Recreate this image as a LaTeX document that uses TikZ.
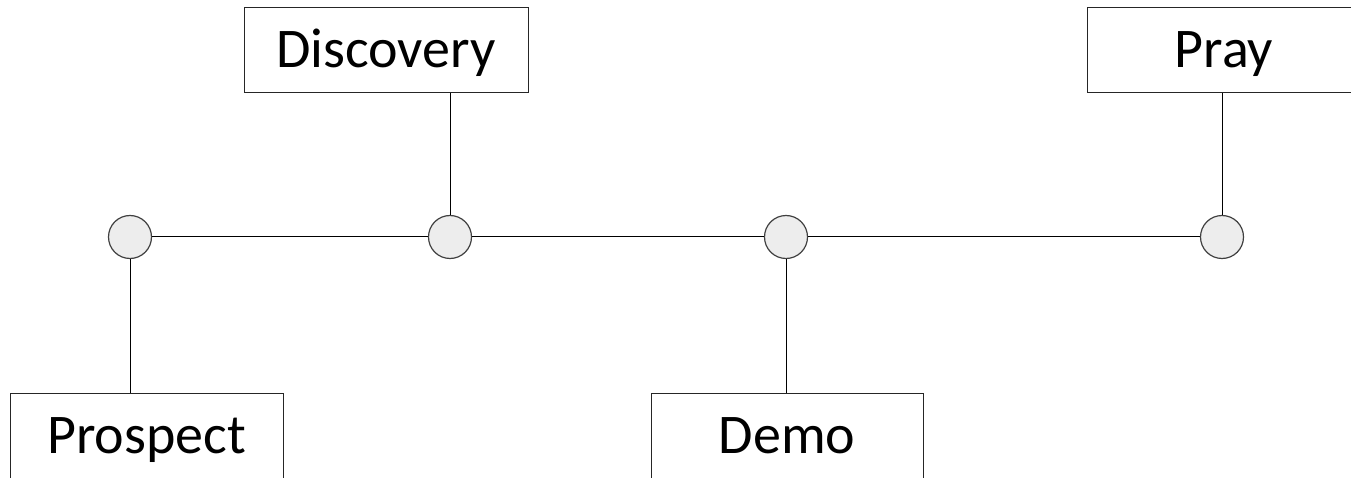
\documentclass[tikz,border=0pt]{standalone}
\usepackage{fontspec}
\setmainfont{Carlito}
\begin{document}
\begin{tikzpicture}[x=1pt,y=-1pt,
  stagebox/.style={draw=black!85, line width=0.9pt, rectangle, inner sep=0pt,
    minimum width=274pt, text height=60pt, text depth=25pt,
    font=\fontsize{56}{60}\selectfont},
  dot/.style={circle, draw=black!75, line width=1.2pt, fill=black!7,
    minimum size=43pt, inner sep=0pt},
  link/.style={draw=black, line width=1pt}]
\useasboundingbox (0,0) rectangle (1351,478);
\clip (0,0) rectangle (1351,478);
\node[stagebox, minimum width=284pt] (disc) at (386,7) [anchor=north] {Discovery};
\node[stagebox] (pray) at (1224,7) [anchor=north] {Pray};
\node[stagebox, minimum width=273pt] (prosp) at (146.5,393) [anchor=north] {Prospect};
\node[stagebox, minimum width=272pt] (demo) at (787,393) [anchor=north] {Demo};
\node[dot] (c1) at (130,237) {};
\node[dot] (c2) at (450,237) {};
\node[dot] (c3) at (786,237) {};
\node[dot] (c4) at (1222,237) {};
\draw[link] (c1) -- (c2);
\draw[link] (c2) -- (c3);
\draw[link] (c3) -- (c4);
\draw[link] (c2.north) -- (c2.north |- disc.south);
\draw[link] (c4.north) -- (c4.north |- pray.south);
\draw[link] (c1.south) -- (c1.south |- prosp.north);
\draw[link] (c3.south) -- (c3.south |- demo.north);
\end{tikzpicture}
\end{document}
